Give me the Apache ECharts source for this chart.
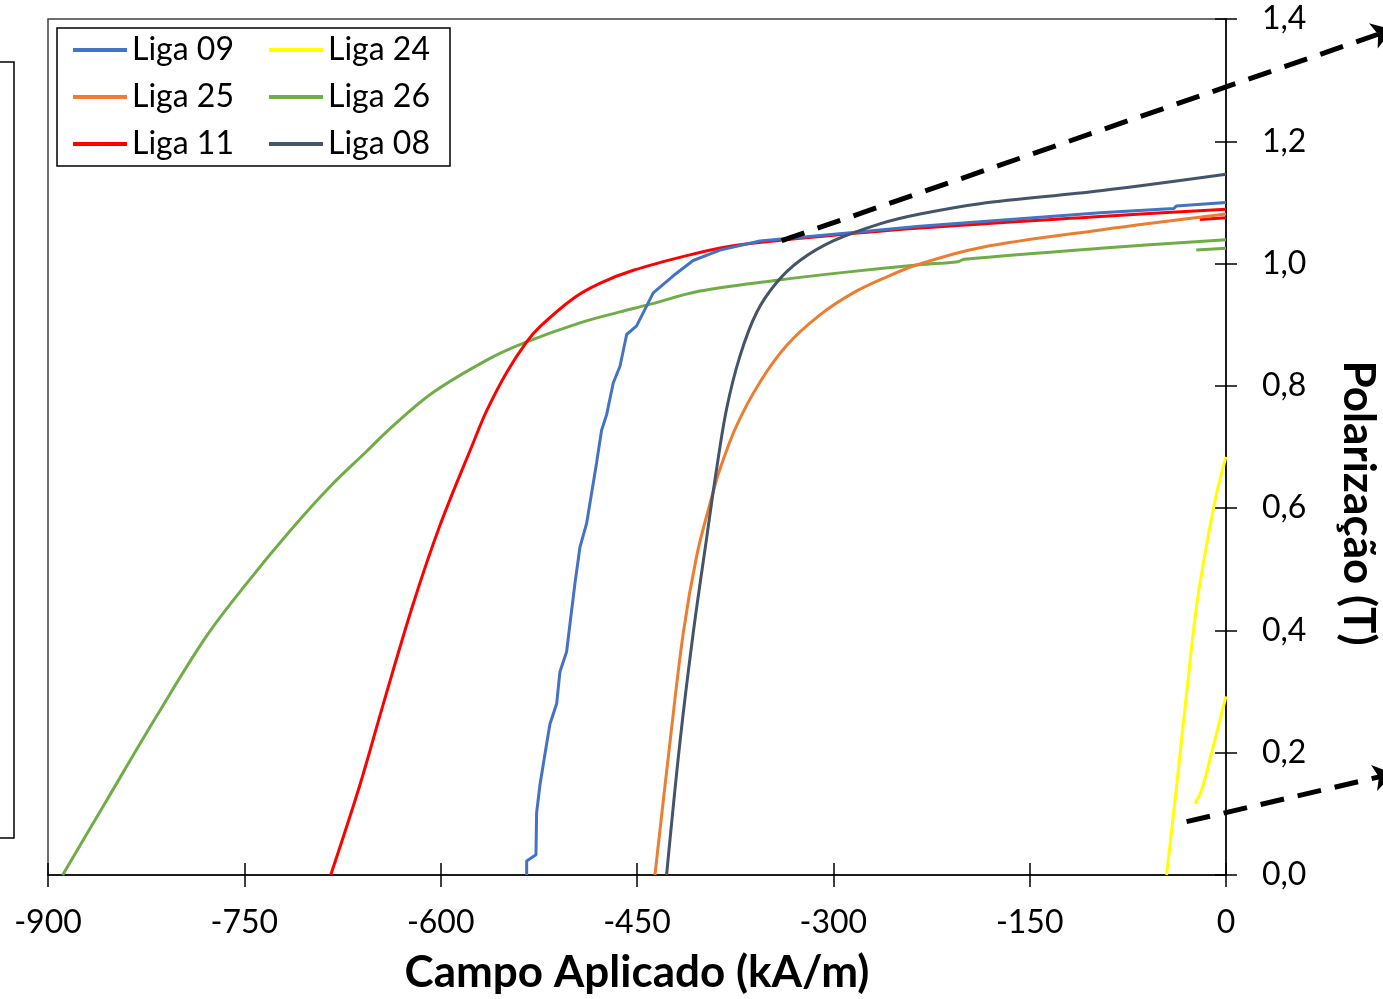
<!DOCTYPE html>
<html>
<head>
<meta charset="utf-8">
<script src="https://cdn.jsdelivr.net/npm/echarts@6/dist/echarts.min.js"></script>
<style>
  html, body { margin: 0; padding: 0; background: #fff; }
  #main { width: 1383px; height: 999px; }
</style>
</head>
<body>
<div id="main"></div>
<script>
  // curvas: [campo kA/m, polarização T]
  const liga09 = [[-534.3, 0], [-534.3, 0.023], [-527.2, 0.033], [-526.7, 0.102], [-524.1, 0.148], [-519.1, 0.214],
    [-516.5, 0.247], [-511.4, 0.280], [-508.9, 0.332], [-503.8, 0.365], [-501.2, 0.411], [-497.4, 0.477],
    [-493.6, 0.536], [-488.5, 0.575], [-483.4, 0.641], [-480.9, 0.674], [-477.1, 0.727], [-473.2, 0.753],
    [-468.1, 0.805], [-463, 0.832], [-457.9, 0.884], [-450.3, 0.898], [-437.6, 0.952], [-422.3, 0.980],
    [-407.1, 1.005], [-386.6, 1.022], [-356.1, 1.037], [-284.8, 1.051], [-233.9, 1.061], [-96, 1.083],
    [-40, 1.090], [-38, 1.094], [0, 1.100]];
  const liga24 = [[-45.4, 0], [-37.8, 0.144], [-30.1, 0.297], [-22.5, 0.440], [-14.8, 0.540], [-7.2, 0.624], [0, 0.684]];
  const liga24Volta = [[-23.8, 0.117], [-18.6, 0.139], [-9.8, 0.210], [0, 0.292]];
  const liga25 = [[-436.3, 0], [-424.8, 0.217], [-414.7, 0.395], [-404.4, 0.522], [-394.3, 0.607], [-386.6, 0.664],
    [-373.9, 0.735], [-356.1, 0.806], [-335.7, 0.866], [-310.2, 0.916], [-284.8, 0.952], [-259.3, 0.978],
    [-236, 0.998], [-188, 1.026], [-96, 1.055], [0, 1.081]];
  const liga26 = [[-888.8, 0], [-855.2, 0.122], [-817, 0.26], [-778.8, 0.391], [-748.2, 0.477], [-715, 0.563],
    [-684.6, 0.635], [-656.5, 0.693], [-638.7, 0.730], [-605.9, 0.789], [-562.3, 0.845], [-534.3, 0.872],
    [-493.6, 0.903], [-463, 0.921], [-442.6, 0.932], [-401.9, 0.955], [-346, 0.972], [-290, 0.986],
    [-234, 0.998], [-205, 1.003], [-200, 1.007], [-96, 1.025], [0, 1.039]];
  const liga26Volta = [[-22.7, 1.022], [0, 1.025]];
  const liga11 = [[-684, 0], [-661.6, 0.148], [-643.8, 0.280], [-620.9, 0.444], [-600.5, 0.572], [-575.1, 0.707],
    [-564.9, 0.759], [-549.6, 0.822], [-534.3, 0.872], [-524.1, 0.897], [-498.7, 0.943], [-478, 0.968],
    [-452.8, 0.989], [-412, 1.013], [-380, 1.028], [-340.8, 1.038], [-233.9, 1.058], [-96, 1.077], [0, 1.089]];
  const liga11Volta = [[-20, 1.072], [0, 1.075]];
  const liga08 = [[-427.4, 0], [-417.2, 0.217], [-407.1, 0.395], [-396.8, 0.551], [-389.2, 0.664], [-381.5, 0.763],
    [-371.3, 0.849], [-358.6, 0.920], [-343.3, 0.969], [-325.5, 1.005], [-300.1, 1.037], [-264.4, 1.065],
    [-233.9, 1.081], [-188, 1.098], [-96, 1.119], [0, 1.146]];
  // linhas tracejadas que apontam para o detalhe (fora do gráfico)
  const setaSuperior = [[-339.5, 1.0375], [127, 1.383]];
  const setaInferior = [[-30.1, 0.0872], [128, 0.166]];

  const xTicks = ['-900', '-750', '-600', '-450', '-300', '-150', '0'];
  const yTicks = ['0,0', '0,2', '0,4', '0,6', '0,8', '1,0', '1,2', '1,4'];
  const legendOrder = ['Liga 09', 'Liga 24', 'Liga 25', 'Liga 26', 'Liga 11', 'Liga 08'];

  const fonte = 'Lato';
  let chart = echarts.init(document.getElementById('main'));

  function curva(name, data, color, smooth) {
    return {
      name: name,
      type: 'line',
      data: data,
      color: color,
      showSymbol: false,
      smooth: smooth ? 0.35 : false,
      lineStyle: { width: 3, color: color },
      z: 3
    };
  }

  function seta(data) {
    return {
      type: 'lines',
      coordinateSystem: 'cartesian2d',
      clip: false,
      silent: true,
      symbol: ['none', 'arrow'],
      symbolSize: 20,
      lineStyle: { color: '#000', width: 5, type: [24, 14], opacity: 1 },
      data: [{ coords: data }],
      z: 5
    };
  }

  chart.setOption({
    animation: false,
    backgroundColor: '#fff',
    textStyle: { fontFamily: fonte },
    grid: {
      left: 48, right: 157, top: 19, bottom: 124,
      outerBoundsMode: 'none',
      show: true, borderColor: '#404040', borderWidth: 1.5
    },
    legend: {
      data: legendOrder,
      left: 57, top: 28,
      width: 390,
      orient: 'horizontal',
      icon: 'rect',
      itemWidth: 54,
      itemHeight: 4,
      itemGap: 15,
      padding: [6, 0, 6, 16],
      borderColor: '#000',
      borderWidth: 1.5,
      backgroundColor: '#fff',
      textStyle: { fontFamily: fonte, fontSize: 32, color: '#000', width: 122, lineHeight: 32 }
    },
    xAxis: [{
      type: 'value',
      min: -900, max: 0, interval: 150,
      name: 'Campo Aplicado (kA/m)',
      nameLocation: 'middle',
      nameGap: 76,
      nameTextStyle: { fontFamily: fonte, fontSize: 44, fontWeight: 'bold', color: '#000' },
      axisLine: { lineStyle: { color: '#000', width: 1.5 } },
      axisTick: { length: 12, lineStyle: { color: '#000', width: 1.5 } },
      axisLabel: {
        margin: 32, fontFamily: fonte, fontSize: 32, color: '#000',
        formatter: (v) => xTicks[Math.round((v + 900) / 150)]
      },
      splitLine: { show: false }
    }, {
      // só os traços internos dos ticks
      type: 'value', position: 'top', offset: -856,
      min: -900, max: 0, interval: 150,
      axisLine: { show: false },
      axisTick: { length: 12, lineStyle: { color: '#000', width: 1.5 } },
      axisLabel: { show: false },
      splitLine: { show: false }
    }],
    yAxis: [{
      type: 'value',
      position: 'right',
      min: 0, max: 1.4, interval: 0.2,
      name: 'Polarização (T)',
      nameLocation: 'middle',
      nameRotate: -90,
      nameGap: 110,
      nameTextStyle: { fontFamily: fonte, fontSize: 44, fontWeight: 'bold', color: '#000', padding: [0, 0, 0, 112] },
      axisLine: { show: true, lineStyle: { color: '#000', width: 1.5 } },
      axisTick: { show: true, length: 11, lineStyle: { color: '#000', width: 1.5 } },
      axisLabel: {
        margin: 36, fontFamily: fonte, fontSize: 32, color: '#000',
        formatter: (v) => yTicks[Math.round(v / 0.2)]
      },
      splitLine: { show: false }
    }, {
      type: 'value', position: 'left', offset: -1178,
      min: 0, max: 1.4, interval: 0.2,
      axisLine: { show: false },
      axisTick: { show: true, length: 11, lineStyle: { color: '#000', width: 1.5 } },
      axisLabel: { show: false },
      splitLine: { show: false }
    }],
    graphic: [{
      // borda do painel vizinho à esquerda
      type: 'rect',
      shape: { x: -10, y: 62, width: 24, height: 776 },
      style: { fill: 'none', stroke: '#000', lineWidth: 1.5 },
      silent: true
    }],
    series: [
      curva('Liga 26', liga26, '#70AD47', true),
      curva('Liga 26', liga26Volta, '#70AD47', false),
      curva('Liga 11', liga11, '#FF0000', true),
      curva('Liga 11', liga11Volta, '#FF0000', false),
      curva('Liga 09', liga09, '#4472C4', false),
      curva('Liga 25', liga25, '#ED7D31', true),
      curva('Liga 08', liga08, '#44546A', true),
      curva('Liga 24', liga24, '#FFFF00', true),
      curva('Liga 24', liga24Volta, '#FFFF00', true),
      seta(setaSuperior),
      seta(setaInferior)
    ]
  });
</script>
</body>
</html>
